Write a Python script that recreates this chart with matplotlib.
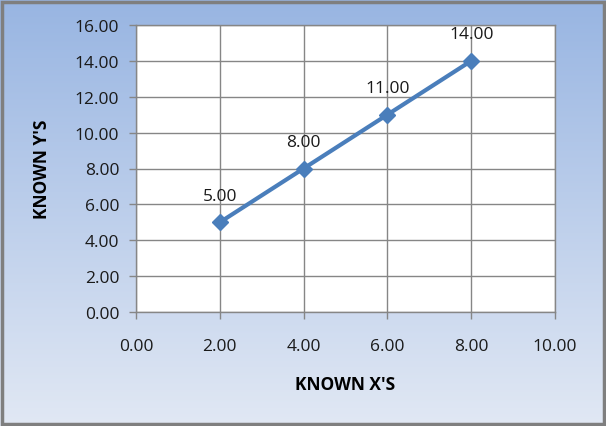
import matplotlib
matplotlib.use("Agg")
import matplotlib.pyplot as plt
import numpy as np
from matplotlib.patches import Rectangle

# Data
known_x = [2, 4, 6, 8]
known_y = [5, 8, 11, 14]
x_ticks = [0, 2, 4, 6, 8, 10]
y_ticks = [0, 2, 4, 6, 8, 10, 12, 14, 16]

plt.rcParams["font.family"] = ["Open Sans", "DejaVu Sans"]

W, H = 606, 427
fig = plt.figure(figsize=(W / 100, H / 100), dpi=100)

# gradient background
bg = fig.add_axes([0, 0, 1, 1], zorder=0)
grad = np.linspace(0, 1, 256).reshape(-1, 1)
top = np.array([0x98, 0xb5, 0xe2]) / 255
bot = np.array([0xe1, 0xe8, 0xf4]) / 255
img = top[None, None, :] * (1 - grad[..., None]) + bot[None, None, :] * grad[..., None]
bg.imshow(img, aspect="auto", extent=[0, 1, 0, 1])
bg.add_patch(Rectangle((2.5 / W, 2.5 / H), (W - 5) / W, (H - 5) / H,
                       transform=bg.transAxes, fill=False,
                       edgecolor="#7f7f7f", linewidth=2.5))
bg.set_xlim(0, 1)
bg.set_ylim(0, 1)
bg.set_axis_off()

# plot area: x 136-555, y 26-313 px
l, r, t, b = 136, 555, 26, 313
ax = fig.add_axes([l / W, 1 - b / H, (r - l) / W, (b - t) / H], zorder=1)
ax.set_facecolor("white")

ax.plot(known_x, known_y, color="#4a7ebb", linewidth=3, marker="D",
        markersize=8.5, zorder=3, clip_on=False)
for xv, yv in zip(known_x, known_y):
    ax.annotate(f"{yv:.2f}", (xv, yv), xytext=(0, 19), textcoords="offset points",
                ha="center", va="center", fontsize=12.5, color="#1a1a1a")

ax.set_xlim(0, 10)
ax.set_ylim(0, 16)
ax.set_xticks(x_ticks)
ax.set_yticks(y_ticks)
ax.set_xticklabels([f"{v:.2f}" for v in x_ticks], fontsize=12.5, color="#1a1a1a")
ax.set_yticklabels([f"{v:.2f}" for v in y_ticks], fontsize=12.5, color="#1a1a1a")
ax.grid(True, color="#868686", linewidth=1)
ax.set_axisbelow(True)
for s in ax.spines.values():
    s.set_color("#868686")
    s.set_linewidth(1)
ax.tick_params(axis="both", direction="out", length=5, color="#868686", width=1)
ax.tick_params(axis="x", pad=14)
ax.tick_params(axis="y", pad=7)

ax.set_xlabel("KNOWN X'S", fontsize=12.5, fontweight="bold", labelpad=15)
ax.set_ylabel("KNOWN Y'S", fontsize=12.5, fontweight="bold", labelpad=17)

fig.savefig("out.png", dpi=100)
